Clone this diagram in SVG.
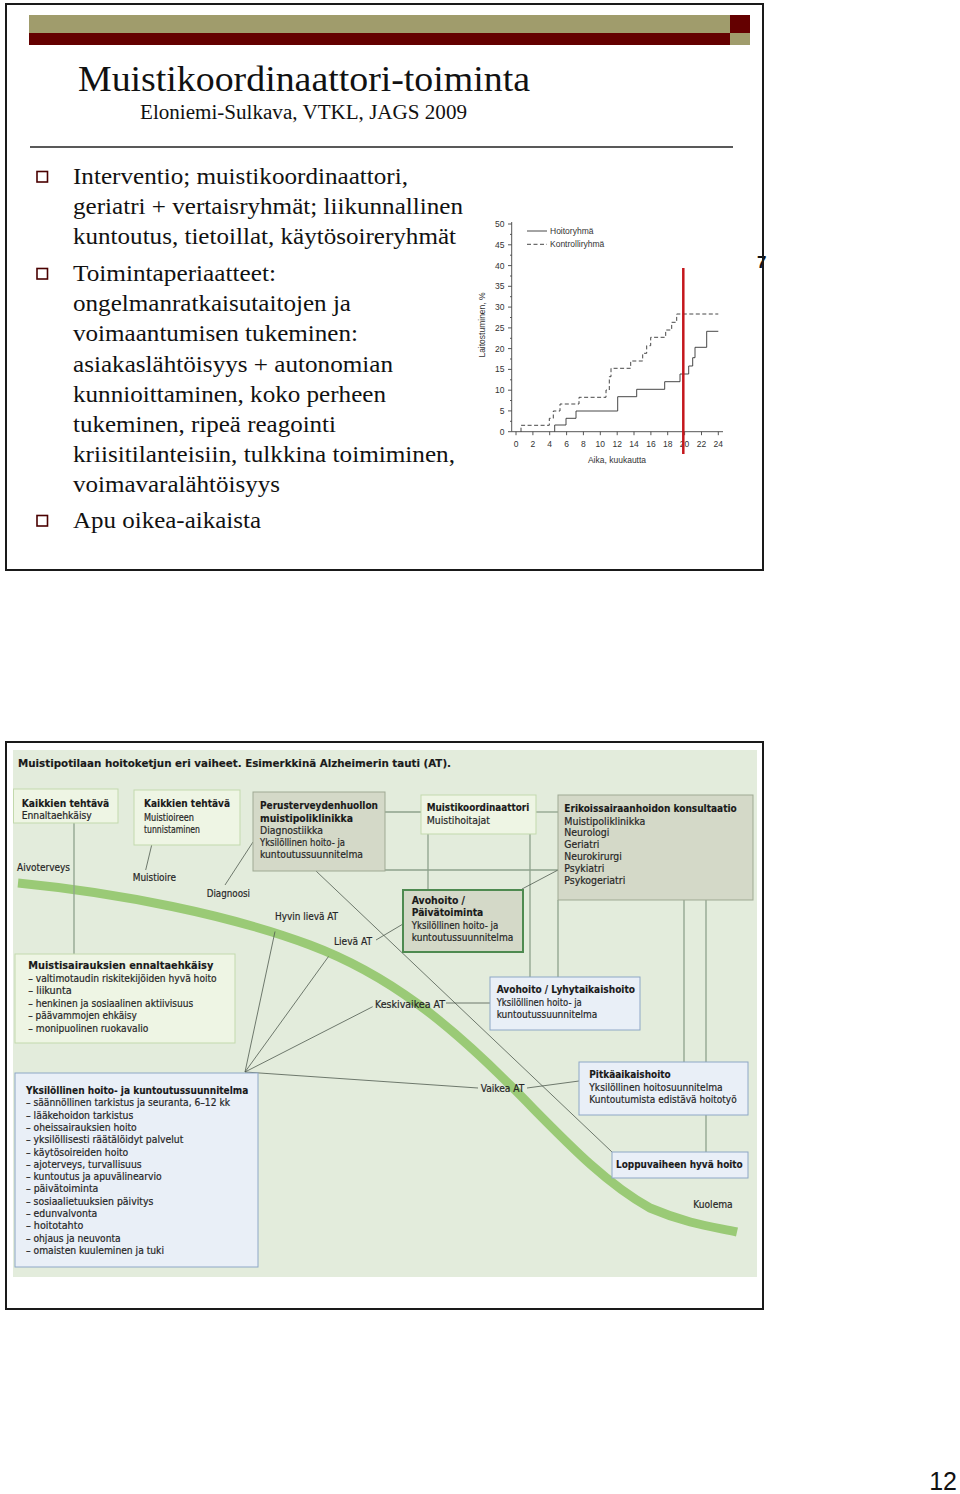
<svg xmlns="http://www.w3.org/2000/svg" width="960" height="1494" viewBox="0 0 960 1494">
<style>
.tm{font-family:"Liberation Serif","Times New Roman",serif;fill:#111}
.ch{font-family:"Liberation Sans",Arial,sans-serif;fill:#333;font-size:8.5px}
.n{font-family:"Liberation Sans Narrow","DejaVu Sans Condensed","Liberation Sans",sans-serif;font-size:11px;fill:#262626;stroke:#262626;stroke-width:0.2}
.b{font-weight:bold;fill:#1a1a1a;stroke:#1a1a1a;stroke-width:0.12}
.frame{fill:none;stroke:#1a1a1a;stroke-width:2}
.bg{fill:#e3ecdc}
.bx1{fill:#eef5e4;stroke:#c3d9ad;stroke-width:1}
.bx2{fill:#d4d9c8;stroke:#9fa993;stroke-width:1}
.bx3{fill:#e9eff7;stroke:#8ea7c6;stroke-width:1}
.ln{fill:none;stroke:#4f5a4f;stroke-width:0.8}
.lv{fill:none;stroke:#8ea28c;stroke-width:1.3}
.bul{fill:#fff;stroke:#4a0000;stroke-width:1.6}
</style>

<!-- top slide -->
<g id="slide-top">
  <text x="757" y="268" font-family="Liberation Sans,Arial,sans-serif" font-size="17" font-weight="bold" fill="#111">7</text>
  <rect x="6" y="4" width="757" height="566" class="frame"/>
  <rect x="29" y="15" width="701" height="18" fill="#a09c6c"/>
  <rect x="29" y="33" width="701" height="12" fill="#640000"/>
  <rect x="730" y="15" width="20" height="18" fill="#640000"/>
  <rect x="730" y="33" width="20" height="12" fill="#a09c6c"/>
  <text x="78" y="91" class="tm" font-size="36" textLength="452" lengthAdjust="spacingAndGlyphs">Muistikoordinaattori-toiminta</text>
  <text x="140" y="119" class="tm" font-size="20" textLength="327" lengthAdjust="spacingAndGlyphs">Eloniemi-Sulkava, VTKL, JAGS 2009</text>
  <line x1="30" y1="147" x2="733" y2="147" stroke="#222" stroke-width="1.5"/>
</g>

<g id="bullets" class="tm" font-size="23">
  <rect x="37" y="171.5" width="10.5" height="10.5" class="bul"/>
  <rect x="37" y="268.5" width="10.5" height="10.5" class="bul"/>
  <rect x="37" y="515.5" width="10.5" height="10.5" class="bul"/>
  <text x="73" y="183.5" textLength="335" lengthAdjust="spacingAndGlyphs">Interventio; muistikoordinaattori,</text>
  <text x="73" y="214" textLength="390" lengthAdjust="spacingAndGlyphs">geriatri + vertaisryhmät; liikunnallinen</text>
  <text x="73" y="244.3" textLength="383" lengthAdjust="spacingAndGlyphs">kuntoutus, tietoillat, käytösoireryhmät</text>
  <text x="73" y="280.7" textLength="203" lengthAdjust="spacingAndGlyphs">Toimintaperiaatteet:</text>
  <text x="73" y="311" textLength="278" lengthAdjust="spacingAndGlyphs">ongelmanratkaisutaitojen ja</text>
  <text x="73" y="341" textLength="285" lengthAdjust="spacingAndGlyphs">voimaantumisen tukeminen:</text>
  <text x="73" y="371.5" textLength="320" lengthAdjust="spacingAndGlyphs">asiakaslähtöisyys + autonomian</text>
  <text x="73" y="401.7" textLength="313" lengthAdjust="spacingAndGlyphs">kunnioittaminen, koko perheen</text>
  <text x="73" y="431.7" textLength="263" lengthAdjust="spacingAndGlyphs">tukeminen, ripeä reagointi</text>
  <text x="73" y="461.7" textLength="382" lengthAdjust="spacingAndGlyphs">kriisitilanteisiin, tulkkina toimiminen,</text>
  <text x="73" y="491.7" textLength="207" lengthAdjust="spacingAndGlyphs">voimavaralähtöisyys</text>
  <text x="73" y="528.3" textLength="188" lengthAdjust="spacingAndGlyphs">Apu oikea-aikaista</text>
</g>

<!-- chart -->
<g id="chart">
  <g stroke="#444" stroke-width="0.9" fill="none">
    <line x1="511.7" y1="222" x2="511.7" y2="431.7"/>
    <line x1="511.7" y1="431.7" x2="723" y2="431.7"/>
    <path d="M508,431.7h3.7M508,410.9h3.7M508,390.2h3.7M508,369.4h3.7M508,348.6h3.7M508,327.9h3.7M508,307.1h3.7M508,286.3h3.7M508,265.6h3.7M508,244.8h3.7M508,224h3.7"/>
    <path d="M510,421.3h1.7M510,400.5h1.7M510,379.8h1.7M510,359h1.7M510,338.3h1.7M510,317.5h1.7M510,296.7h1.7M510,276h1.7M510,255.2h1.7M510,234.4h1.7"/>
    <path d="M516,431.7v3.5M532.9,431.7v3.5M549.7,431.7v3.5M566.6,431.7v3.5M583.4,431.7v3.5M600.3,431.7v3.5M617.2,431.7v3.5M634,431.7v3.5M650.9,431.7v3.5M667.7,431.7v3.5M684.6,431.7v3.5M701.5,431.7v3.5M718.3,431.7v3.5"/>
  </g>
  <g class="ch" text-anchor="end">
    <text x="504.5" y="434.7">0</text><text x="504.5" y="413.9">5</text><text x="504.5" y="393.2">10</text>
    <text x="504.5" y="372.4">15</text><text x="504.5" y="351.6">20</text><text x="504.5" y="330.9">25</text>
    <text x="504.5" y="310.1">30</text><text x="504.5" y="289.3">35</text><text x="504.5" y="268.6">40</text>
    <text x="504.5" y="247.8">45</text><text x="504.5" y="227">50</text>
  </g>
  <g class="ch" text-anchor="middle">
    <text x="516" y="447">0</text><text x="532.9" y="447">2</text><text x="549.7" y="447">4</text>
    <text x="566.6" y="447">6</text><text x="583.4" y="447">8</text><text x="600.3" y="447">10</text>
    <text x="617.2" y="447">12</text><text x="634" y="447">14</text><text x="650.9" y="447">16</text>
    <text x="667.7" y="447">18</text><text x="684.6" y="447">20</text><text x="701.5" y="447">22</text>
    <text x="718.3" y="447">24</text>
    <text x="617" y="463">Aika, kuukautta</text>
    <text x="0" y="0" transform="translate(484.5,325) rotate(-90)">Laitostuminen, %</text>
  </g>
  <line x1="527" y1="231" x2="547" y2="231" stroke="#333" stroke-width="0.9"/>
  <line x1="527" y1="244.3" x2="547" y2="244.3" stroke="#333" stroke-width="0.9" stroke-dasharray="4,2.5"/>
  <text x="550" y="234" class="ch" font-size="8">Hoitoryhmä</text>
  <text x="550" y="247.3" class="ch" font-size="8">Kontrolliryhmä</text>
  <path fill="none" stroke="#333" stroke-width="0.9" stroke-dasharray="4,2.5" d="M521,431.7V425.3H549.3V418.3H553.3V411H560V404H579V397.3H606V390H609.3V376.7H611V368.3H630.7V361H642.7V353.3H646.7V345.7H650.7V337.3H665.7V330H671.7V322.3H676.7V314H718.3"/>
  <path fill="none" stroke="#333" stroke-width="0.9" d="M554.7,431.7V425H566V418.3H576V411H617.7V396.7H636.7V389.3H664.7V381.7H680V374H688.7V366H692.7V357.7H695V347.3H706.7V331.3H718.3"/>
  <line x1="683.3" y1="268" x2="683.3" y2="454" stroke="#c4161c" stroke-width="2.5"/>
</g>

<!-- lower slide -->
<g id="slide-bottom">
  <rect x="13" y="750" width="744" height="527" class="bg"/>
  <rect x="6" y="742" width="757" height="567" class="frame"/>
  <text x="18" y="766.5" class="n b" font-size="13.5" textLength="433" lengthAdjust="spacingAndGlyphs">Muistipotilaan hoitoketjun eri vaiheet. Esimerkkinä Alzheimerin tauti (AT).</text>
</g>

<path id="disease-course" d="M18,883 C120,893 230,915 310,945 C390,975 450,1025 510,1085 C560,1135 600,1180 650,1208 C690,1225 715,1227 737,1232" fill="none" stroke="#9aca76" stroke-width="9"/>

<g id="connectors">
  <line x1="74" y1="823" x2="74" y2="954" class="lv"/>
  <line x1="151.7" y1="845" x2="145.7" y2="870" class="ln"/>
  <line x1="253" y1="842" x2="225" y2="885" class="ln"/>
  <line x1="316" y1="871" x2="612" y2="1152" class="ln"/>
  <line x1="385" y1="812" x2="421" y2="812" class="lv"/>
  <line x1="536" y1="812" x2="558" y2="812" class="lv"/>
  <line x1="385" y1="870" x2="558" y2="870" class="lv"/>
  <line x1="428" y1="834" x2="428" y2="890" class="lv"/>
  <line x1="530" y1="834" x2="530" y2="977" class="lv"/>
  <line x1="558" y1="900" x2="558" y2="977" class="lv"/>
  <line x1="522" y1="889" x2="558" y2="870" class="ln"/>
  <line x1="376" y1="940" x2="403" y2="924" class="ln"/>
  <line x1="446" y1="1003" x2="490" y2="1003" class="ln"/>
  <line x1="684" y1="900" x2="684" y2="1062" class="lv"/>
  <line x1="706" y1="900" x2="706" y2="1062" class="lv"/>
  <line x1="706" y1="1115" x2="706" y2="1152" class="lv"/>
  <line x1="245" y1="1072" x2="275" y2="931.5" class="ln"/>
  <line x1="245" y1="1072" x2="328.5" y2="956.5" class="ln"/>
  <line x1="245" y1="1072" x2="372.7" y2="1006.7" class="ln"/>
  <line x1="245" y1="1072" x2="478" y2="1088" class="ln"/>
  <line x1="527" y1="1088" x2="579" y2="1081" class="ln"/>
</g>

<g id="stage-labels" class="n">
  <text x="17" y="871" textLength="53" lengthAdjust="spacingAndGlyphs">Aivoterveys</text>
  <text x="132.7" y="880.7" textLength="43.3" lengthAdjust="spacingAndGlyphs">Muistioire</text>
  <text x="206.7" y="897.3" textLength="43.3" lengthAdjust="spacingAndGlyphs">Diagnoosi</text>
  <text x="275" y="920" textLength="63" lengthAdjust="spacingAndGlyphs">Hyvin lievä AT</text>
  <text x="334" y="945" textLength="38" lengthAdjust="spacingAndGlyphs">Lievä AT</text>
  <text x="375" y="1008.3" textLength="70" lengthAdjust="spacingAndGlyphs">Keskivaikea AT</text>
  <text x="480.7" y="1091.7" textLength="43.6" lengthAdjust="spacingAndGlyphs">Vaikea AT</text>
  <text x="693.3" y="1208.3" textLength="39.4" lengthAdjust="spacingAndGlyphs">Kuolema</text>
</g>

<g id="box-ennaltaehkaisy" class="n">
  <rect x="13.5" y="789" width="104.5" height="34" class="bx1"/>
  <text x="21.7" y="806.5" class="b" textLength="87.6" lengthAdjust="spacingAndGlyphs">Kaikkien tehtävä</text>
  <text x="21.7" y="818.5" textLength="70" lengthAdjust="spacingAndGlyphs">Ennaltaehkäisy</text>
</g>

<g id="box-tunnistaminen" class="n">
  <rect x="134" y="790" width="106" height="55" class="bx1"/>
  <text x="144" y="806.5" class="b" textLength="86" lengthAdjust="spacingAndGlyphs">Kaikkien tehtävä</text>
  <text x="144" y="820.5" textLength="50" lengthAdjust="spacingAndGlyphs">Muistioireen</text>
  <text x="144" y="833" textLength="56" lengthAdjust="spacingAndGlyphs">tunnistaminen</text>
</g>

<g id="box-perusterveydenhuolto" class="n">
  <rect x="253" y="792" width="132" height="79" class="bx2"/>
  <text x="260" y="809" class="b" textLength="118" lengthAdjust="spacingAndGlyphs">Perusterveydenhuollon</text>
  <text x="260" y="821.5" class="b" textLength="93" lengthAdjust="spacingAndGlyphs">muistipoliklinikka</text>
  <text x="260" y="833.5" textLength="63" lengthAdjust="spacingAndGlyphs">Diagnostiikka</text>
  <text x="260" y="845.7" textLength="85" lengthAdjust="spacingAndGlyphs">Yksilöllinen hoito- ja</text>
  <text x="260" y="857.5" textLength="103" lengthAdjust="spacingAndGlyphs">kuntoutussuunnitelma</text>
</g>

<g id="box-muistikoordinaattori" class="n">
  <rect x="421" y="795" width="115" height="39" class="bx1"/>
  <text x="426.7" y="811" class="b" textLength="102.6" lengthAdjust="spacingAndGlyphs">Muistikoordinaattori</text>
  <text x="426.7" y="823.5" textLength="63.3" lengthAdjust="spacingAndGlyphs">Muistihoitajat</text>
</g>

<g id="box-erikoissairaanhoito" class="n">
  <rect x="558" y="795" width="195" height="105" class="bx2"/>
  <text x="564.3" y="812.3" class="b" textLength="172.4" lengthAdjust="spacingAndGlyphs">Erikoissairaanhoidon konsultaatio</text>
  <text x="564.3" y="824.6" textLength="81" lengthAdjust="spacingAndGlyphs">Muistipoliklinikka</text>
  <text x="564.3" y="836.4" textLength="45" lengthAdjust="spacingAndGlyphs">Neurologi</text>
  <text x="564.3" y="848.2" textLength="35" lengthAdjust="spacingAndGlyphs">Geriatri</text>
  <text x="564.3" y="860" textLength="57.5" lengthAdjust="spacingAndGlyphs">Neurokirurgi</text>
  <text x="564.3" y="871.8" textLength="40" lengthAdjust="spacingAndGlyphs">Psykiatri</text>
  <text x="564.3" y="883.6" textLength="61" lengthAdjust="spacingAndGlyphs">Psykogeriatri</text>
</g>

<g id="box-paivatoiminta" class="n">
  <rect x="403" y="890" width="120" height="62" fill="#d4d9c8" stroke="#4e8a50" stroke-width="2"/>
  <text x="411.7" y="903.5" class="b" textLength="53.3" lengthAdjust="spacingAndGlyphs">Avohoito /</text>
  <text x="411.7" y="916" class="b" textLength="71.6" lengthAdjust="spacingAndGlyphs">Päivätoiminta</text>
  <text x="411.7" y="928.5" textLength="86.6" lengthAdjust="spacingAndGlyphs">Yksilöllinen hoito- ja</text>
  <text x="411.7" y="941" textLength="101.6" lengthAdjust="spacingAndGlyphs">kuntoutussuunnitelma</text>
</g>

<g id="box-ennaltaehkaisy-lista" class="n">
  <rect x="15" y="954" width="220" height="89" class="bx1"/>
  <text x="28.3" y="969" class="b" textLength="185" lengthAdjust="spacingAndGlyphs">Muistisairauksien ennaltaehkäisy</text>
  <text x="28.3" y="981.6" textLength="188.4" lengthAdjust="spacingAndGlyphs">– valtimotaudin riskitekijöiden hyvä hoito</text>
  <text x="28.3" y="994" textLength="43.4" lengthAdjust="spacingAndGlyphs">– liikunta</text>
  <text x="28.3" y="1006.6" textLength="165" lengthAdjust="spacingAndGlyphs">– henkinen ja sosiaalinen aktiivisuus</text>
  <text x="28.3" y="1019.2" textLength="108.4" lengthAdjust="spacingAndGlyphs">– päävammojen ehkäisy</text>
  <text x="28.3" y="1031.7" textLength="120" lengthAdjust="spacingAndGlyphs">– monipuolinen ruokavalio</text>
</g>

<g id="box-lyhytaikaishoito" class="n">
  <rect x="490" y="977" width="150" height="53" class="bx3"/>
  <text x="496.7" y="993.3" class="b" textLength="138.3" lengthAdjust="spacingAndGlyphs">Avohoito / Lyhytaikaishoito</text>
  <text x="496.7" y="1006" textLength="85" lengthAdjust="spacingAndGlyphs">Yksilöllinen hoito- ja</text>
  <text x="496.7" y="1018.3" textLength="100.6" lengthAdjust="spacingAndGlyphs">kuntoutussuunnitelma</text>
</g>

<g id="box-pitkaaikaishoito" class="n">
  <rect x="579" y="1062" width="169" height="53" class="bx3"/>
  <text x="589.3" y="1077.7" class="b" textLength="81.4" lengthAdjust="spacingAndGlyphs">Pitkäaikaishoito</text>
  <text x="589.3" y="1090.7" textLength="133.4" lengthAdjust="spacingAndGlyphs">Yksilöllinen hoitosuunnitelma</text>
  <text x="589.3" y="1103.3" textLength="147.4" lengthAdjust="spacingAndGlyphs">Kuntoutumista edistävä hoitotyö</text>
</g>

<g id="box-loppuvaihe" class="n">
  <rect x="612" y="1152" width="136" height="26" class="bx3"/>
  <text x="616" y="1168.3" class="b" textLength="126.7" lengthAdjust="spacingAndGlyphs">Loppuvaiheen hyvä hoito</text>
</g>

<g id="box-hoitosuunnitelma" class="n">
  <rect x="15" y="1073" width="243" height="194" class="bx3"/>
  <text x="26" y="1094" class="b" textLength="222.3" lengthAdjust="spacingAndGlyphs">Yksilöllinen hoito- ja kuntoutussuunnitelma</text>
  <text x="26" y="1106.3" textLength="204" lengthAdjust="spacingAndGlyphs">– säännöllinen tarkistus ja seuranta, 6–12 kk</text>
  <text x="26" y="1118.6" textLength="107.3" lengthAdjust="spacingAndGlyphs">– lääkehoidon tarkistus</text>
  <text x="26" y="1130.9" textLength="110.7" lengthAdjust="spacingAndGlyphs">– oheissairauksien hoito</text>
  <text x="26" y="1143.2" textLength="157.3" lengthAdjust="spacingAndGlyphs">– yksilöllisesti räätälöidyt palvelut</text>
  <text x="26" y="1155.5" textLength="102.3" lengthAdjust="spacingAndGlyphs">– käytösoireiden hoito</text>
  <text x="26" y="1167.8" textLength="115.7" lengthAdjust="spacingAndGlyphs">– ajoterveys, turvallisuus</text>
  <text x="26" y="1180.1" textLength="135.7" lengthAdjust="spacingAndGlyphs">– kuntoutus ja apuvälinearvio</text>
  <text x="26" y="1192.4" textLength="72.3" lengthAdjust="spacingAndGlyphs">– päivätoiminta</text>
  <text x="26" y="1204.7" textLength="127.3" lengthAdjust="spacingAndGlyphs">– sosiaalietuuksien päivitys</text>
  <text x="26" y="1217" textLength="71.3" lengthAdjust="spacingAndGlyphs">– edunvalvonta</text>
  <text x="26" y="1229.3" textLength="57.3" lengthAdjust="spacingAndGlyphs">– hoitotahto</text>
  <text x="26" y="1241.6" textLength="94.7" lengthAdjust="spacingAndGlyphs">– ohjaus ja neuvonta</text>
  <text x="26" y="1253.9" textLength="138" lengthAdjust="spacingAndGlyphs">– omaisten kuuleminen ja tuki</text>
</g>

<text id="page-number" x="957" y="1490" text-anchor="end" font-family="Liberation Sans,Arial,sans-serif" font-size="25" fill="#111">12</text>
</svg>
